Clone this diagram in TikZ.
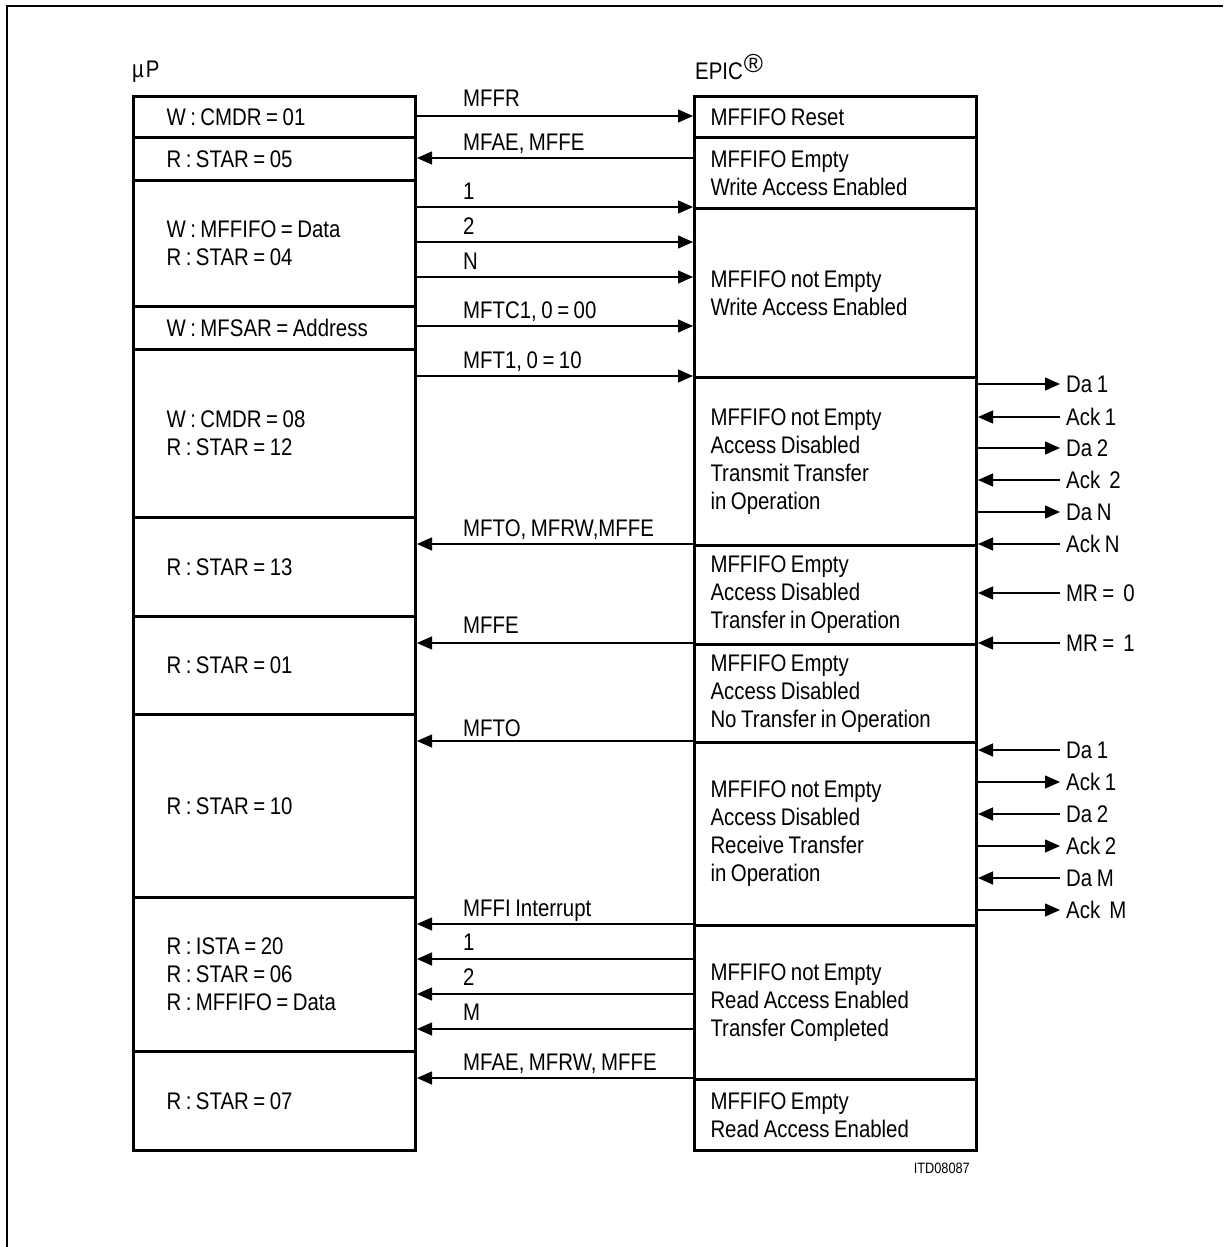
\documentclass[tikz,border=0pt]{standalone}
\usepackage{fontspec}
\setmainfont{Liberation Sans}[FakeStretch=0.85, WordSpace=0.8]
\usetikzlibrary{arrows.meta}
\begin{document}
\begin{tikzpicture}[x=1pt,y=1pt,
  fnt/.style={font=\fontsize{24}{28}\selectfont},
  lbox/.style={draw, line width=3pt, fnt, anchor=north west, text width=216pt, inner xsep=33pt, inner ysep=0pt, align=flush left},
  rbox/.style={draw, line width=3pt, fnt, anchor=north west, text width=250pt, inner xsep=16pt, inner ysep=0pt, align=flush left},
  sig/.style={line width=1.2pt},
  tip/.style={-{Triangle[length=15pt,width=13pt]}},
  lab/.style={fnt, anchor=base west, inner sep=0pt},
  side/.style={fnt, anchor=west, inner sep=0pt}]
\useasboundingbox (0,0) rectangle (1223,-1247);
% outer frame (cut at right and bottom)
\draw[line width=2.5pt] (7,-1247) -- (7,-6) -- (1223,-6);
% headers
\node[fnt, anchor=west, inner sep=0pt] (hup) at (132,-72) {µ\kern2pt P};
\node[fnt, anchor=base west, inner sep=0pt] (hepic) at (695,-80) {EPIC\kern1pt\raisebox{8pt}{\fontsize{26}{26}\selectfont\addfontfeature{FakeStretch=1}®}};
% left column
\node[lbox, minimum height=41pt]  (L1)  at (132,-95)   {W : CMDR = 01};
\node[lbox, minimum height=43pt]  (L2)  at (132,-136)  {R : STAR = 05};
\node[lbox, minimum height=126pt] (L3)  at (132,-179)  {W : MFFIFO = Data\\R : STAR = 04};
\node[lbox, minimum height=43pt]  (L4)  at (132,-305)  {W : MFSAR = Address};
\node[lbox, minimum height=168pt] (L5)  at (132,-348)  {W : CMDR = 08\\R : STAR = 12};
\node[lbox, minimum height=99pt]  (L6)  at (132,-516)  {R : STAR = 13};
\node[lbox, minimum height=98pt]  (L7)  at (132,-615)  {R : STAR = 01};
\node[lbox, minimum height=183pt] (L8)  at (132,-713)  {R : STAR = 10};
\node[lbox, minimum height=154pt] (L9)  at (132,-896)  {R : ISTA = 20\\R : STAR = 06\\R : MFFIFO = Data};
\node[lbox, minimum height=99pt]  (L10) at (132,-1050) {R : STAR = 07};
% right column
\node[rbox, minimum height=41pt]  (R1) at (693,-95)   {MFFIFO Reset};
\node[rbox, minimum height=71pt]  (R2) at (693,-136)  {MFFIFO Empty\\Write Access Enabled};
\node[rbox, minimum height=169pt] (R3) at (693,-207)  {MFFIFO not Empty\\Write Access Enabled};
\node[rbox, minimum height=168pt] (R4) at (693,-376)  {MFFIFO not Empty\\Access Disabled\\Transmit Transfer\\in Operation};
\node[rbox, minimum height=99pt]  (R5) at (693,-544)  {MFFIFO Empty\\Access Disabled\\Transfer in Operation};
\node[rbox, minimum height=98pt]  (R6) at (693,-643)  {MFFIFO Empty\\Access Disabled\\No Transfer in Operation};
\node[rbox, minimum height=183pt] (R7) at (693,-741)  {MFFIFO not Empty\\Access Disabled\\Receive Transfer\\in Operation};
\node[rbox, minimum height=154pt] (R8) at (693,-924)  {MFFIFO not Empty\\Read Access Enabled\\Transfer Completed};
\node[rbox, minimum height=71pt]  (R9) at (693,-1078) {MFFIFO Empty\\Read Access Enabled};
% arrows between columns
\draw[sig,tip] (L1.east |- 0,-116) -- (R1.west |- 0,-116);
\node[lab] (t1) at (463,-106) {MFFR};
\draw[sig,tip] (R2.west |- 0,-158) -- (L2.east |- 0,-158);
\node[lab] (t2) at (463,-150) {MFAE, MFFE};
\draw[sig,tip] (L3.east |- 0,-207) -- (R3.west |- 0,-207);
\node[lab] (t3) at (463,-199) {1};
\draw[sig,tip] (L3.east |- 0,-242) -- (R3.west |- 0,-242);
\node[lab] (t4) at (463,-234) {2};
\draw[sig,tip] (L3.east |- 0,-277) -- (R3.west |- 0,-277);
\node[lab] (t5) at (463,-269) {N};
\draw[sig,tip] (L4.east |- 0,-326) -- (R3.west |- 0,-326);
\node[lab] (t6) at (463,-318) {MFTC1, 0 = 00};
\draw[sig,tip] (L5.east |- 0,-376) -- (R4.west |- 0,-376);
\node[lab] (t7) at (463,-368) {MFT1, 0 = 10};
\draw[sig,tip] (R5.west |- 0,-544) -- (L6.east |- 0,-544);
\node[lab] (t8) at (463,-536) {MFTO, MFRW,MFFE};
\draw[sig,tip] (R6.west |- 0,-643) -- (L7.east |- 0,-643);
\node[lab] (t9) at (463,-633) {MFFE};
\draw[sig,tip] (R7.west |- 0,-741) -- (L8.east |- 0,-741);
\node[lab] (t10) at (463,-736) {MFTO};
\draw[sig,tip] (R8.west |- 0,-924) -- (L9.east |- 0,-924);
\node[lab] (t11) at (463,-916) {MFFI Interrupt};
\draw[sig,tip] (R8.west |- 0,-959) -- (L9.east |- 0,-959);
\node[lab] (t12) at (463,-950) {1};
\draw[sig,tip] (R8.west |- 0,-994) -- (L9.east |- 0,-994);
\node[lab] (t13) at (463,-985) {2};
\draw[sig,tip] (R8.west |- 0,-1029) -- (L9.east |- 0,-1029);
\node[lab] (t14) at (463,-1020) {M};
\draw[sig,tip] (R9.west |- 0,-1078) -- (L10.east |- 0,-1078);
\node[lab] (t15) at (463,-1070) {MFAE, MFRW, MFFE};
% side signals, transmit
\node[side] (s1) at (1066,-384) {Da 1};
\node[side] (s2) at (1066,-417) {Ack 1};
\node[side] (s3) at (1066,-448) {Da 2};
\node[side] (s4) at (1066,-480) {Ack\ \ 2};
\node[side] (s5) at (1066,-512) {Da N};
\node[side] (s6) at (1066,-544) {Ack N};
\node[side] (s7) at (1066,-593) {MR =\ \ 0};
\node[side] (s8) at (1066,-643) {MR =\ \ 1};
\draw[sig,tip] (R4.east |- s1) -- ([xshift=-6pt]s1.west);
\draw[sig,tip] ([xshift=-6pt]s2.west) -- (R4.east |- s2);
\draw[sig,tip] (R4.east |- s3) -- ([xshift=-6pt]s3.west);
\draw[sig,tip] ([xshift=-6pt]s4.west) -- (R4.east |- s4);
\draw[sig,tip] (R4.east |- s5) -- ([xshift=-6pt]s5.west);
\draw[sig,tip] ([xshift=-6pt]s6.west) -- (R5.east |- s6);
\draw[sig,tip] ([xshift=-6pt]s7.west) -- (R5.east |- s7);
\draw[sig,tip] ([xshift=-6pt]s8.west) -- (R6.east |- s8);
% side signals, receive
\node[side] (r1) at (1066,-750) {Da 1};
\node[side] (r2) at (1066,-782) {Ack 1};
\node[side] (r3) at (1066,-814) {Da 2};
\node[side] (r4) at (1066,-846) {Ack 2};
\node[side] (r5) at (1066,-878) {Da M};
\node[side] (r6) at (1066,-910) {Ack\ \ M};
\draw[sig,tip] ([xshift=-6pt]r1.west) -- (R7.east |- r1);
\draw[sig,tip] (R7.east |- r2) -- ([xshift=-6pt]r2.west);
\draw[sig,tip] ([xshift=-6pt]r3.west) -- (R7.east |- r3);
\draw[sig,tip] (R7.east |- r4) -- ([xshift=-6pt]r4.west);
\draw[sig,tip] ([xshift=-6pt]r5.west) -- (R7.east |- r5);
\draw[sig,tip] (R7.east |- r6) -- ([xshift=-6pt]r6.west);
% figure id
\node[font=\fontsize{15}{17}\selectfont, anchor=east, inner sep=0pt] (id) at (970,-1168) {ITD08087};
\end{tikzpicture}
\end{document}
